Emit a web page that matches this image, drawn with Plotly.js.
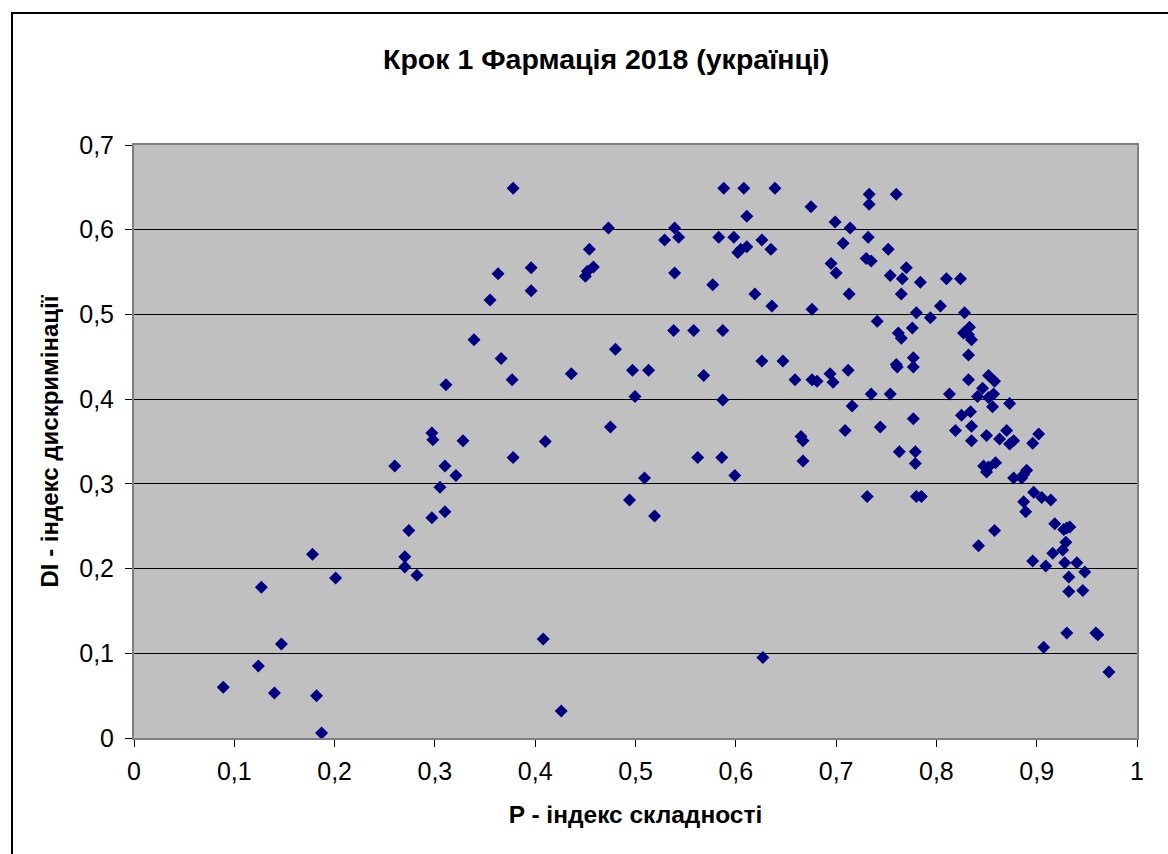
<!DOCTYPE html>
<html>
<head>
<meta charset="utf-8">
<script src="https://cdn.plot.ly/plotly-3.0.1.min.js"></script>
<style>
  html, body { margin: 0; padding: 0; background: #fff; }
  #wrap { position: relative; width: 1168px; height: 854px; overflow: hidden; }
  #chart { position: absolute; left: 0; top: 0; width: 1168px; height: 854px; }
  #frame { position: absolute; left: 11px; top: 12px; width: 1200px; height: 900px;
           border-left: 2px solid #000; border-top: 2px solid #000; pointer-events: none; }
</style>
</head>
<body>
<div id="wrap">
  <div id="chart"></div>
  <div id="frame"></div>
</div>
<script>
// P - difficulty index
const P = [
  0.089, 0.124, 0.127, 0.140, 0.147, 0.178, 0.182, 0.187, 0.201, 0.260,
  0.270, 0.270, 0.274, 0.282, 0.297, 0.297, 0.298, 0.305, 0.310, 0.310,
  0.311, 0.321, 0.328, 0.339, 0.355, 0.363, 0.366, 0.377, 0.378, 0.378,
  0.396, 0.396, 0.408, 0.410, 0.426, 0.436, 0.450, 0.452, 0.454, 0.458,
  0.473, 0.475, 0.480, 0.494, 0.497, 0.4995, 0.509, 0.513, 0.519, 0.529,
  0.538, 0.539, 0.539, 0.543, 0.558, 0.562, 0.568, 0.577, 0.583, 0.586,
  0.587, 0.587, 0.588, 0.598, 0.599, 0.602, 0.605, 0.608, 0.611, 0.611,
  0.619, 0.626, 0.626, 0.627, 0.635, 0.636, 0.639, 0.647, 0.659, 0.665,
  0.667, 0.667, 0.675, 0.676, 0.676, 0.681, 0.694, 0.695, 0.697, 0.699,
  0.700, 0.707, 0.709, 0.712, 0.713, 0.714, 0.716, 0.730, 0.731, 0.732,
  0.733, 0.733, 0.735, 0.735, 0.741, 0.744, 0.752, 0.754, 0.754, 0.760,
  0.760, 0.761, 0.762, 0.763, 0.765, 0.765, 0.766, 0.770, 0.776, 0.777,
  0.777, 0.777, 0.779, 0.779, 0.780, 0.780, 0.784, 0.785, 0.794, 0.804,
  0.810, 0.813, 0.819, 0.824, 0.825, 0.827, 0.828, 0.832, 0.832, 0.832,
  0.833, 0.834, 0.835, 0.835, 0.835, 0.841, 0.842, 0.846, 0.847, 0.850,
  0.850, 0.852, 0.852, 0.852, 0.856, 0.857, 0.858, 0.858, 0.859, 0.863,
  0.870, 0.873, 0.873, 0.877, 0.877, 0.885, 0.887, 0.887, 0.889, 0.890,
  0.896, 0.896, 0.897, 0.902, 0.905, 0.907, 0.909, 0.914, 0.916, 0.918,
  0.926, 0.927, 0.928, 0.929, 0.930, 0.930, 0.932, 0.932, 0.933, 0.940,
  0.946, 0.948, 0.959, 0.961, 0.972
];
// DI - discrimination index
const DI = [
  0.060, 0.085, 0.178, 0.053, 0.111, 0.217, 0.050, 0.006, 0.189, 0.321,
  0.214, 0.202, 0.245, 0.192, 0.260, 0.360, 0.352, 0.296, 0.321, 0.267,
  0.417, 0.310, 0.351, 0.470, 0.517, 0.548, 0.448, 0.423, 0.649, 0.331,
  0.555, 0.528, 0.117, 0.350, 0.032, 0.430, 0.545, 0.551, 0.577, 0.556,
  0.602, 0.367, 0.459, 0.281, 0.434, 0.403, 0.307, 0.434, 0.262, 0.588,
  0.481, 0.602, 0.549, 0.591, 0.481, 0.331, 0.428, 0.535, 0.591, 0.331,
  0.481, 0.399, 0.649, 0.591, 0.310, 0.573, 0.577, 0.649, 0.616, 0.580,
  0.524, 0.588, 0.445, 0.095, 0.577, 0.510, 0.649, 0.445, 0.423, 0.356,
  0.351, 0.327, 0.627, 0.506, 0.423, 0.421, 0.430, 0.560, 0.420, 0.609,
  0.549, 0.584, 0.363, 0.434, 0.524, 0.602, 0.392, 0.566, 0.285, 0.591,
  0.642, 0.630, 0.563, 0.406, 0.492, 0.367, 0.577, 0.546, 0.406, 0.642,
  0.441, 0.438, 0.478, 0.338, 0.524, 0.472, 0.542, 0.555, 0.484, 0.449,
  0.438, 0.377, 0.338, 0.324, 0.502, 0.285, 0.538, 0.285, 0.496, 0.510,
  0.542, 0.406, 0.363, 0.542, 0.381, 0.478, 0.502, 0.476, 0.452, 0.423,
  0.485, 0.385, 0.470, 0.368, 0.351, 0.403, 0.227, 0.413, 0.321, 0.357,
  0.314, 0.428, 0.402, 0.320, 0.391, 0.406, 0.421, 0.245, 0.325, 0.353,
  0.363, 0.395, 0.347, 0.351, 0.307, 0.307, 0.311, 0.279, 0.267, 0.316,
  0.348, 0.209, 0.290, 0.359, 0.284, 0.107, 0.203, 0.281, 0.218, 0.253,
  0.222, 0.246, 0.207, 0.231, 0.248, 0.124, 0.190, 0.173, 0.249, 0.207,
  0.174, 0.196, 0.124, 0.122, 0.078
];
const xTickVals = [0, 0.1, 0.2, 0.3, 0.4, 0.5, 0.6, 0.7, 0.8, 0.9, 1];
const xTickText = ['0', '0,1', '0,2', '0,3', '0,4', '0,5', '0,6', '0,7', '0,8', '0,9', '1'];
const yTickVals = [0, 0.1, 0.2, 0.3, 0.4, 0.5, 0.6, 0.7];
const yTickText = ['0', '0,1', '0,2', '0,3', '0,4', '0,5', '0,6', '0,7'];

const font = 'Liberation Sans, Arial, sans-serif';

const trace = {
  x: P, y: DI, type: 'scatter', mode: 'markers',
  marker: { symbol: 'diamond', size: 10, color: '#000080', line: { width: 0 } },
  hoverinfo: 'x+y', cliponaxis: false
};

const layout = {
  width: 1168, height: 854,
  margin: { l: 134, r: 31, t: 145, b: 116 },
  paper_bgcolor: '#ffffff',
  plot_bgcolor: '#C0C0C0',
  showlegend: false,
  font: { family: font, color: '#000', size: 24 },
  title: {
    text: '<b>Крок 1 Фармація 2018 (українці)</b>',
    font: { family: font, size: 28.5, color: '#000' },
    x: 0.519, xanchor: 'center', xref: 'container',
    y: 0.931, yanchor: 'middle', yref: 'container'
  },
  xaxis: {
    range: [0, 1], tickmode: 'array', tickvals: xTickVals, ticktext: xTickText,
    showgrid: false, zeroline: false,
    showline: true, linecolor: '#808080', linewidth: 2, mirror: true,
    ticks: 'outside', ticklen: 7, tickcolor: '#000', tickwidth: 1,
    ticklabelstandoff: 3,
    tickfont: { family: font, size: 25, color: '#000' },
    title: { text: '<b>P - індекс складності</b>', font: { family: font, size: 24.5, color: '#000' }, standoff: 22 }
  },
  yaxis: {
    range: [0, 0.7], tickmode: 'array', tickvals: yTickVals, ticktext: yTickText,
    showgrid: true, gridcolor: '#000000', gridwidth: 1, zeroline: false,
    showline: true, linecolor: '#808080', linewidth: 2, mirror: true,
    ticks: 'outside', ticklen: 7, tickcolor: '#000', tickwidth: 1,
    ticklabelstandoff: 6,
    tickfont: { family: font, size: 25, color: '#000' },
    title: { text: '<b>DI - індекс дискримінації</b>', font: { family: font, size: 24, color: '#000' }, standoff: 14 }
  }
};

Plotly.newPlot('chart', [trace], layout, { staticPlot: true, displayModeBar: false });
</script>
</body>
</html>
